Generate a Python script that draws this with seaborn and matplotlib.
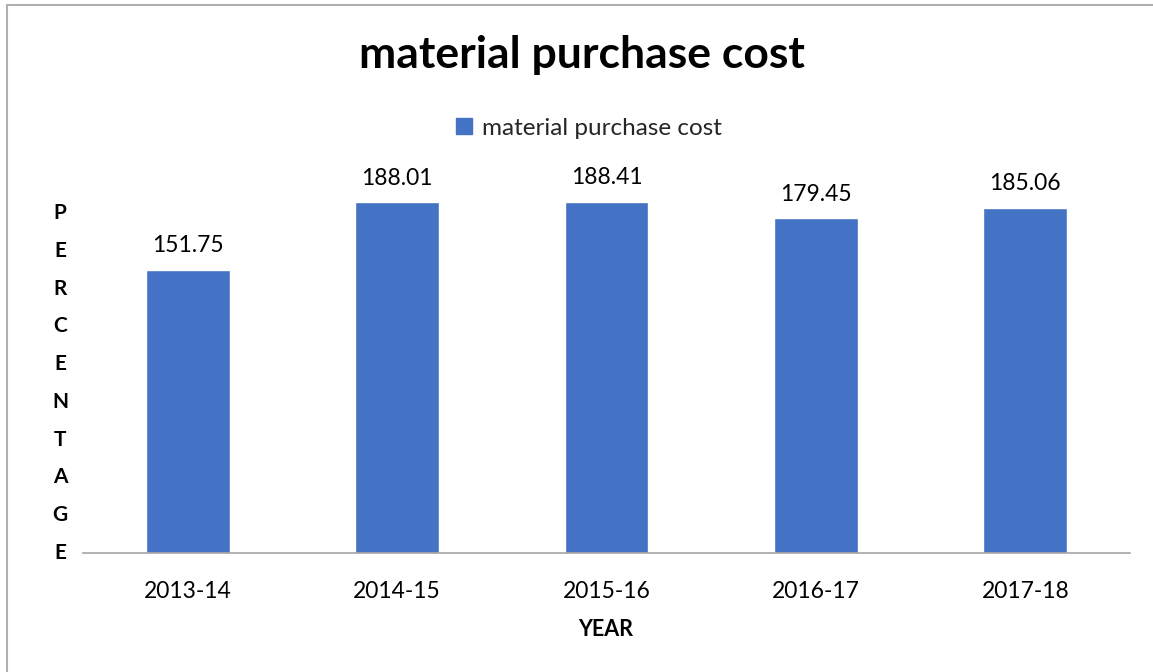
import matplotlib
matplotlib.use("Agg")
import matplotlib.pyplot as plt
import seaborn as sns
import pandas as pd
from matplotlib.lines import Line2D

years = ["2013-14", "2014-15", "2015-16", "2016-17", "2017-18"]
values = [151.75, 188.01, 188.41, 179.45, 185.06]
series_name = "material purchase cost"
title = "material purchase cost"
ylabel_text = "PERCENTAGE"
xlabel_text = "YEAR"

sns.set_theme(style="white")
plt.rcParams['font.family'] = ['Lato', 'DejaVu Sans']

W, H = 1153, 672
fig = plt.figure(figsize=(W / 100, H / 100), dpi=100)
ax = fig.add_axes([83 / W, 1 - 553 / H, (1130 - 83) / W, (553 - 182) / H])

df = pd.DataFrame({"year": years, "value": values})
sns.barplot(data=df, x="year", y="value", color="#4472C4", width=0.4,
            saturation=1, ax=ax)
ax.set_ylim(0, 199)
ax.set_xlim(-0.5, len(years) - 0.5)
if ax.get_legend() is not None:
    ax.get_legend().remove()

ax.bar_label(ax.containers[0], fmt="%.2f", padding=10, fontsize=16.5, color="#000000")

for s in ["top", "right", "left"]:
    ax.spines[s].set_visible(False)
ax.spines["bottom"].set_color("#A6A6A6")
ax.spines["bottom"].set_linewidth(1.2)
ax.set_yticks([])
ax.tick_params(axis="x", length=0, labelsize=16.5, pad=20, colors="#000000")
ax.set_xlabel("")
ax.set_ylabel("")

# title
fig.text(582 / W, 1 - 55 / H, title, ha="center", va="center",
         fontsize=32, fontweight="bold", color="#000000")

# legend
handle = Line2D([], [], marker="s", linestyle="none", markersize=11,
                markerfacecolor="#4472C4", markeredgecolor="#4472C4")
fig.legend([handle], [series_name], loc="center", bbox_to_anchor=(588 / W, 1 - 128 / H),
           frameon=False, fontsize=17.5, handlelength=0.8, handletextpad=0.35,
           borderpad=0)

# vertical stacked y label
n = len(ylabel_text)
y0, y1 = 213, 553
for i, ch in enumerate(ylabel_text):
    y = y0 + (y1 - y0) * i / (n - 1)
    fig.text(60 / W, 1 - y / H, ch, ha="center", va="center",
             fontsize=15, fontweight="bold", color="#000000")

# x label
fig.text(606 / W, 1 - 630 / H, xlabel_text, ha="center", va="center",
         fontsize=15.5, fontweight="bold", color="#000000")

# border (top and left visible)
fig.add_artist(Line2D([7 / W, 1], [1 - 5 / H, 1 - 5 / H], color="#B0B0B0", lw=1.5))
fig.add_artist(Line2D([7 / W, 7 / W], [0, 1 - 5 / H], color="#B0B0B0", lw=1.5))

fig.savefig("out.png", dpi=100, facecolor="white")
